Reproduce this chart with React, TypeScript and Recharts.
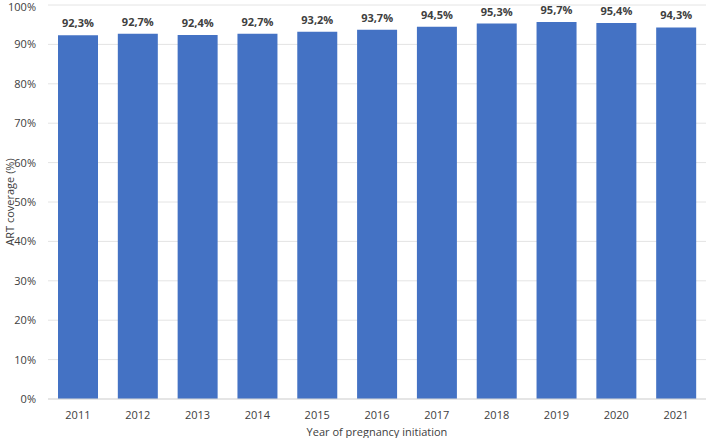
import React from "react";
import { BarChart, Bar, XAxis, YAxis, CartesianGrid, LabelList } from "recharts";

const years = ["2011", "2012", "2013", "2014", "2015", "2016", "2017", "2018", "2019", "2020", "2021"];
const coverage = [92.3, 92.7, 92.4, 92.7, 93.2, 93.7, 94.5, 95.3, 95.7, 95.4, 94.3];
const yTicks = [0, 10, 20, 30, 40, 50, 60, 70, 80, 90, 100];

const data = years.map((y, i) => ({ year: y, value: coverage[i] }));

const FONT = "'Open Sans', 'Liberation Sans', sans-serif";

export default function App() {
  return (
    <div style={{ position: "absolute", left: 0, top: 0, width: 708, height: 438, background: "#fff" }}>
      <BarChart
        width={708}
        height={438}
        data={data}
        margin={{ top: 5, right: 2, bottom: 0, left: 0 }}
        barCategoryGap={10}
      >
        <CartesianGrid vertical={false} stroke="#e4e4e4" />
        <XAxis
          dataKey="year"
          height={39}
          axisLine={{ stroke: "#d9d9d9" }}
          tickLine={false}
          tick={{ fill: "#404040", fontSize: 11, fontFamily: FONT }}
          tickMargin={6}
          label={{ value: "Year of pregnancy initiation", position: "insideBottom", offset: 2, fill: "#404040", fontSize: 11, fontFamily: FONT }}
        />
        <YAxis
          domain={[0, 100]}
          ticks={yTicks}
          width={48}
          axisLine={false}
          tickLine={false}
          tickFormatter={(v: number) => `${v}%`}
          tick={{ fill: "#404040", fontSize: 11, fontFamily: FONT }}
          tickMargin={6}
          label={{ value: "ART coverage (%)", angle: -90, position: "insideLeft", offset: 10, style: { textAnchor: "middle" }, fill: "#404040", fontSize: 11, fontFamily: FONT }}
        />
        <Bar dataKey="value" fill="#4472C4" isAnimationActive={false}>
          <LabelList
            dataKey="value"
            position="top"
            offset={8}
            formatter={(v: number) => `${v.toFixed(1).replace(".", ",")}%`}
            style={{ fill: "#404040", fontSize: 11, fontWeight: "bold", fontFamily: FONT }}
          />
        </Bar>
      </BarChart>
    </div>
  );
}
